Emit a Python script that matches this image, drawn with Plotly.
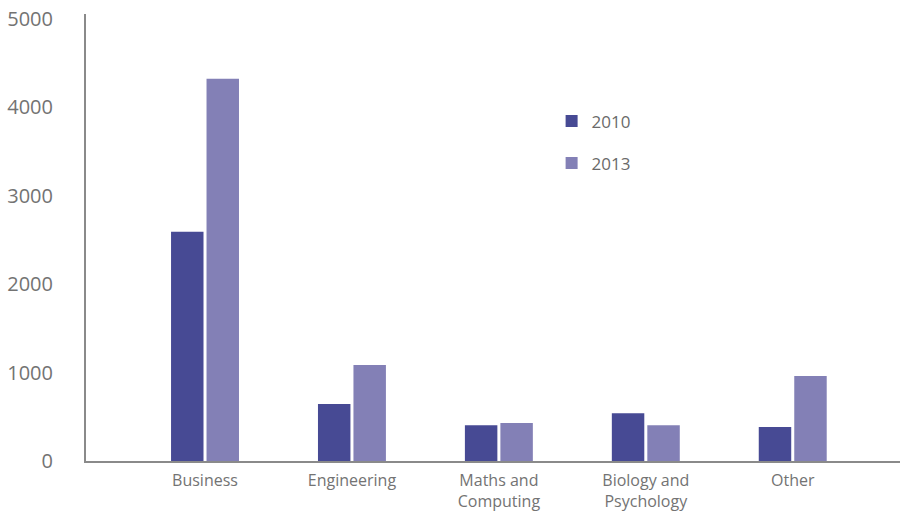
import plotly.graph_objects as go

categories = ["Business", "Engineering", "Maths and<br>Computing", "Biology and<br>Psychology", "Other"]
years = ["2010", "2013"]
values_2010 = [2590, 645, 405, 540, 385]
values_2013 = [4320, 1085, 430, 405, 960]
y_ticks = [0, 1000, 2000, 3000, 4000, 5000]

colors = {"2010": "#474a94", "2013": "#8380b6"}
font_family = "Open Sans, Noto Sans, sans-serif"
text_color = "#737373"

fig = go.Figure()
for yr, vals in zip(years, [values_2010, values_2013]):
    fig.add_trace(go.Bar(
        x=categories, y=vals, name=yr,
        marker=dict(color=colors[yr], line=dict(width=0)),
        legendgroup=yr,
    ))

fig.update_layout(
    width=904, height=523,
    margin=dict(l=86, r=4, t=14, b=62),
    paper_bgcolor="white", plot_bgcolor="white",
    barmode="group", bargap=0.517, bargroupgap=0.085,
    font=dict(family=font_family, color=text_color),
    showlegend=True,
    legend=dict(
        x=0.572, y=0.80, xanchor="left", yanchor="top",
        font=dict(size=17, color="#6a6a6a"),
        tracegroupgap=17, bgcolor="rgba(0,0,0,0)",
    ),
    xaxis=dict(
        range=[-0.81, 4.73], showgrid=False, showline=True,
        linecolor="#8a8a8a", linewidth=2, ticks="",
        tickfont=dict(size=16, color=text_color),
        ticklabelstandoff=4, automargin=False,
    ),
    yaxis=dict(
        range=[0, 5051], tickvals=y_ticks, showgrid=False,
        showline=True, linecolor="#8a8a8a", linewidth=2,
        ticks="", zeroline=False,
        tickfont=dict(size=20, color=text_color),
        ticklabelstandoff=27, automargin=False,
    ),
)

fig.write_html(
    "out.html",
    config={"displayModeBar": False},
    post_script="document.body.style.margin='0';document.body.style.overflow='hidden';",
)
